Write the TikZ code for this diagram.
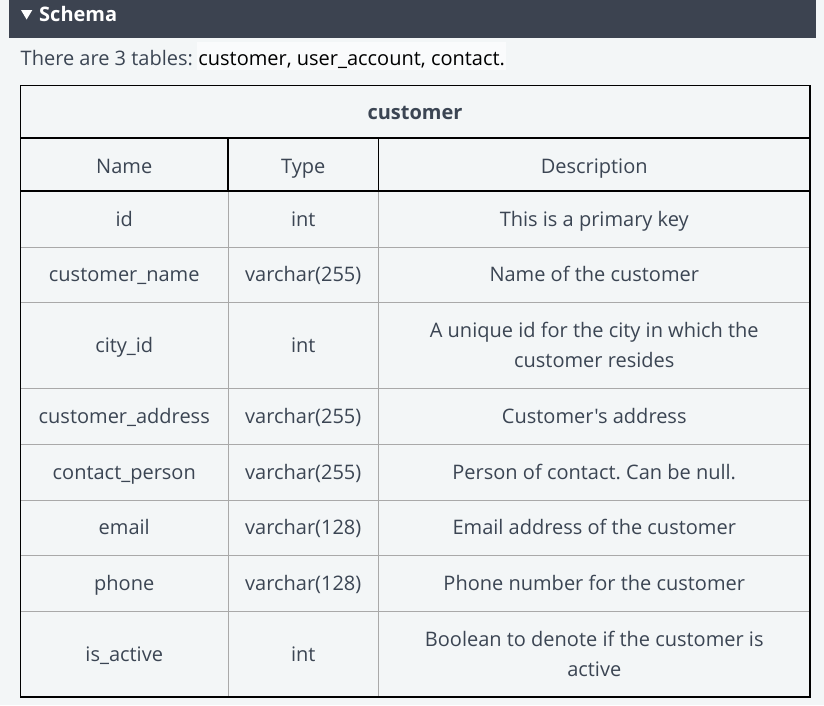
\documentclass[tikz,border=0pt]{standalone}
\usepackage{fontspec}
\newfontfamily\opensans{Open Sans}
\usepackage{xcolor}
\usetikzlibrary{positioning}
\frenchspacing
\definecolor{pagebg}{HTML}{F3F6F7}
\definecolor{barbg}{HTML}{3C4350}
\definecolor{mytext}{HTML}{3B4553}
\definecolor{mygray}{HTML}{A9A9A9}
\colorlet{myhilite}{white!60!pagebg}

\begin{document}
\begin{tikzpicture}[x=1pt,y=-1pt,
    cell/.style={mytext,font=\opensans\fontsize{20}{30}\selectfont,inner sep=0pt,anchor=base},
    outer/.style={black,line width=1.3pt},
    inner/.style={mygray,line width=1pt}
  ]
  
  \def\xa{20.5}
  \def\xb{228}
  \def\xc{378.5}
  \def\xd{810}
  
  % PAGE
  \fill[pagebg] (0,0) rectangle (824,705);
  \useasboundingbox (0,0) rectangle (824,705);
  
  % BAR
  \fill[barbg] (9,0) rectangle (816,38);
  \fill[white] (21,10) -- (32.3,10) -- (26.6,19.5) -- cycle;
  \node[cell,white,font=\opensans\fontsize{20}{24}\selectfont\bfseries,anchor=base west]
    (schema) at (39,21) {Schema};
  
  % INTRO
  \node[cell,anchor=base west] (intro) at (20.5,65) {There are 3 tables:};
  \node[cell,black,anchor=base west,fill=myhilite,inner xsep=1pt,
        text height=23pt,text depth=5pt]
    (tables) at ([xshift=4pt]intro.base east) {customer, user\_account, contact.};
  
  % TITLE AND HEAD
  \node[cell,font=\opensans\fontsize{20}{24}\selectfont\bfseries] (title) at (415,119) {customer};
  \node[cell] (head-name) at ({(\xa+\xb)/2},173) {Name};
  \node[cell] (head-type) at ({(\xb+\xc)/2},173) {Type};
  \node[cell] (head-desc) at ({(\xc+\xd)/2},173) {Description};
  
  % ROWS
  \foreach \ytop/\ybot/\fname/\ftype/\nl/\lnA/\lnB [count=\r,
             evaluate={\ymid=(\ytop+\ybot)/2;}] in {
      191/247/id/int/1/{This is a primary key}/{},
      247/302/customer\_name/varchar(255)/1/{Name of the customer}/{},
      302/388/city\_id/int/2/{A unique id for the city in which the}/{customer resides},
      388/444/customer\_address/varchar(255)/1/{Customer's address}/{},
      444/500/contact\_person/varchar(255)/1/{Person of contact. Can be null.}/{},
      500/555/email/varchar(128)/1/{Email address of the customer}/{},
      555/611/phone/varchar(128)/1/{Phone number for the customer}/{},
      611/697/is\_active/int/2/{Boolean to denote if the customer is}/{active}}{
    \node[cell] (row\r-name) at ({(\xa+\xb)/2},\ymid+7) {\fname};
    \node[cell] (row\r-type) at ({(\xb+\xc)/2},\ymid+7) {\ftype};
    \ifnum\nl=1
      \node[cell] (row\r-desc) at ({(\xc+\xd)/2},\ymid+7) {\lnA};
    \else
      \node[cell] (row\r-desc) at ({(\xc+\xd)/2},\ymid-8) {\lnA};
      \node[cell] (row\r-more) at ({(\xc+\xd)/2},\ymid+22) {\lnB};
    \fi
    \ifnum\r<8
      \draw[inner] (\xa,\ybot) -- (\xd,\ybot);
    \fi
  }
  
  % GRID
  \draw[inner] (\xb,191) -- (\xb,697) (\xc,191) -- (\xc,697);
  \draw[outer] (\xb,138) -- (\xb,191) (\xc,138) -- (\xc,191);
  \draw[outer] (\xa,138) -- (\xd,138) (\xa,191) -- (\xd,191);
  \draw[outer] (\xa,85.5) rectangle (\xd,697);
  
\end{tikzpicture}
\end{document}
